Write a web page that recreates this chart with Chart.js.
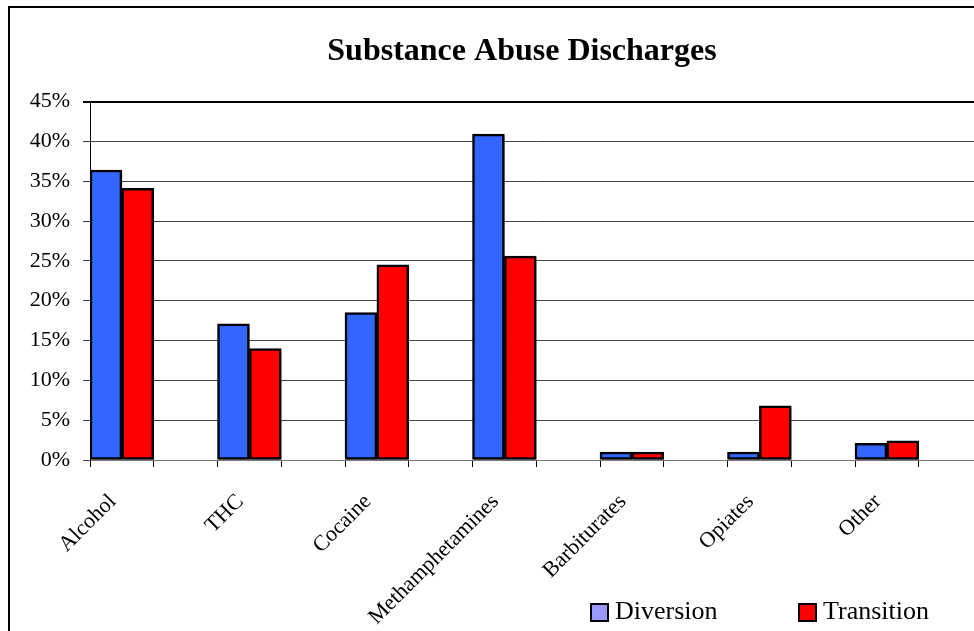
<!DOCTYPE html>
<html>
<head>
<meta charset="utf-8">
<script src="https://cdn.jsdelivr.net/npm/chart.js@4"></script>
<style>
  html, body { margin: 0; padding: 0; background: #fff; overflow: hidden; width: 974px; height: 631px; }
  #frame { position: absolute; left: 8px; top: 6px; width: 1100px; height: 700px;
           border-left: 2px solid #000; border-top: 2px solid #000; }
  #wrap { position: absolute; left: 10px; top: 8px; width: 1040px; height: 623px; }
  #legend { position: absolute; top: 0; left: 0; font-family: 'Liberation Serif', 'Times New Roman', serif; font-size: 26px; color: #000; }
  .item { position: absolute; top: 596px; white-space: nowrap; line-height: 30px; }
  .box { position: absolute; width: 15px; height: 15px; border: 2px solid #000; top: 7px; left: 0; }
  .item span.txt { position: absolute; left: 25px; top: 0; }
</style>
</head>
<body>
<div id="frame"></div>
<div id="wrap"><canvas id="chart" width="1040" height="623"></canvas></div>
<div id="legend"></div>
<script>
// values, in percent
const categories = ['Alcohol', 'THC', 'Cocaine', 'Methamphetamines', 'Barbiturates', 'Opiates', 'Other'];
const diversion = [36.4, 17.1, 18.5, 40.9, 1.0, 1.0, 2.1];
const transition = [34.1, 14.0, 24.5, 25.6, 1.0, 6.8, 2.4];
const yTicks = [0, 5, 10, 15, 20, 25, 30, 35, 40, 45];

// the original sheet has an empty column after every substance
const labels = categories.flatMap(c => [c, '']);
const padOut = arr => arr.flatMap(v => [v, null]);

const serif = "'Liberation Serif', 'Times New Roman', serif";

// small drop shadow under the bars
const barShadow = {
  id: 'barShadow',
  beforeDatasetsDraw(chart) {
    const ctx = chart.ctx;
    ctx.save();
    ctx.shadowColor = 'rgba(0,0,0,0.35)';
    ctx.shadowOffsetX = 2;
    ctx.shadowOffsetY = 2;
    ctx.shadowBlur = 0;
  },
  afterDatasetsDraw(chart) {
    chart.ctx.restore();
  }
};

const chart = new Chart(document.getElementById('chart'), {
  type: 'bar',
  data: {
    labels: labels,
    datasets: [
      { label: 'Diversion', data: padOut(diversion), backgroundColor: '#3366FF',
        legendColor: '#9999FF', borderColor: '#000', borderWidth: 2.5, borderSkipped: false },
      { label: 'Transition', data: padOut(transition), backgroundColor: '#FF0000',
        legendColor: '#FF0000', borderColor: '#000', borderWidth: 2.5, borderSkipped: false }
    ]
  },
  options: {
    responsive: false,
    animation: false,
    layout: { padding: { left: 18, right: 34, top: 10, bottom: 0 } },
    datasets: { bar: { categoryPercentage: 1, barPercentage: 1 } },
    plugins: {
      legend: { display: false },
      tooltip: { enabled: false },
      title: {
        display: true,
        text: 'Substance Abuse Discharges',
        color: '#000',
        font: { family: serif, size: 32, weight: 'bold' },
        padding: { top: 14.8, bottom: 30.3 }
      }
    },
    scales: {
      x: {
        grid: { drawOnChartArea: false, drawTicks: true, tickLength: 7, color: '#000', offset: true },
        border: { display: true, color: '#777', width: 1 },
        ticks: {
          autoSkip: false, minRotation: 45, maxRotation: 45, padding: 22, labelOffset: -9,
          color: '#000', font: { family: serif, size: 22 }
        },
        afterFit(scale) { scale.height = 623 - 452; }
      },
      y: {
        min: 0, max: 45,
        afterBuildTicks(scale) { scale.ticks = yTicks.map(v => ({ value: v })); },
        grid: {
          color: ctx => (ctx.tick && ctx.tick.value === 45) ? '#000' : '#444',
          lineWidth: ctx => (ctx.tick && ctx.tick.value === 45) ? 2 : 1,
          tickLength: 7, drawTicks: true
        },
        border: { display: true, color: '#000', width: 1 },
        ticks: {
          padding: 13, color: '#000', font: { family: serif, size: 22 },
          callback: v => v + '%'
        },
        afterFit(scale) { scale.width = 80 - 18; }
      },
      // empty axis on the right, only keeps the plot edge where the original has it
      yRight: {
        position: 'right', min: 0, max: 45,
        grid: { display: false }, border: { display: false }, ticks: { display: false },
        afterFit(scale) { scale.width = 1006 - 972.5; }
      }
    }
  },
  plugins: [barShadow]
});

// legend written as html from the chart's own datasets
const legendPos = [590, 798];
const legendEl = document.getElementById('legend');
chart.data.datasets.forEach((ds, i) => {
  const item = document.createElement('div');
  item.className = 'item';
  item.style.left = legendPos[i] + 'px';
  const box = document.createElement('span');
  box.className = 'box';
  box.style.background = ds.legendColor;
  const txt = document.createElement('span');
  txt.className = 'txt';
  txt.textContent = ds.label;
  item.appendChild(box);
  item.appendChild(txt);
  legendEl.appendChild(item);
});
</script>
</body>
</html>
